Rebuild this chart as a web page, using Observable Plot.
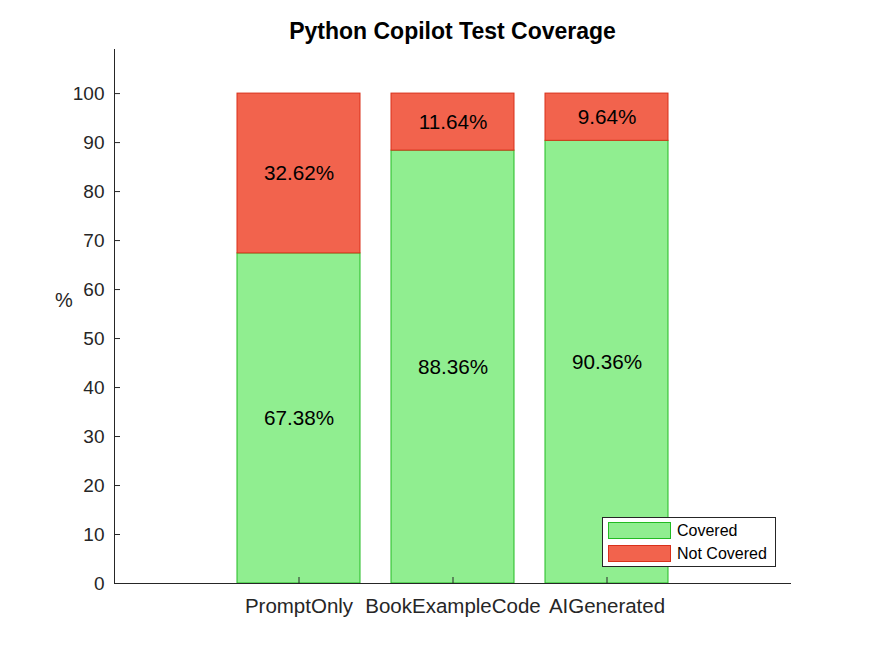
<!DOCTYPE html>
<html>
<head>
<meta charset="utf-8">
<script src="https://cdn.jsdelivr.net/npm/d3@7"></script>
<script src="https://cdn.jsdelivr.net/npm/@observablehq/plot@0.6"></script>
<style>
  body { margin: 0; background: white; }
  #wrap { position: relative; width: 875px; height: 656px; font-family: "Liberation Sans", Arial, Helvetica, sans-serif; }
  #title { position: absolute; left: 114px; width: 677px; top: 18px; text-align: center; font-weight: bold; font-size: 23px; color: #000; }
  #ylab { position: absolute; left: 55px; top: 289px; font-size: 20px; color: #262626; }
  #legend { position: absolute; left: 602px; top: 517px; width: 172px; height: 48px; border: 1px solid #262626; background: white; }
  .item { position: absolute; left: 5px; height: 17px; display: flex; align-items: center; }
  .sw { width: 61px; height: 15px; border: 1px solid; box-sizing: content-box; }
  .lt { margin-left: 6px; font-size: 16px; color: #000; }
</style>
</head>
<body>
<div id="wrap">
  <div id="title">Python Copilot Test Coverage</div>
  <div id="ylab">%</div>
  <div id="legend"></div>
</div>
<script>
const categories = ["PromptOnly", "BookExampleCode", "AIGenerated"];
const seriesNames = ["Covered", "Not Covered"];
const covered = [67.38, 88.36, 90.36];
const notCovered = [32.62, 11.64, 9.64];
const yTicks = [0, 10, 20, 30, 40, 50, 60, 70, 80, 90, 100];

const fillColors = ["#90EE90", "#F2634D"];
const strokeColors = ["#22BB22", "#D9301A"];

const rows = [];
categories.forEach((c, i) => {
  rows.push({cat: c, series: seriesNames[0], value: covered[i]});
  rows.push({cat: c, series: seriesNames[1], value: notCovered[i]});
});

const W = 875, H = 656, mL = 114, mR = 84, mT = 49, mB = 73;
const frameW = W - mL - mR, frameH = H - mT - mB;
const axisColor = "#262626";

const chart = Plot.plot({
  width: W, height: H,
  marginLeft: mL, marginRight: mR, marginTop: mT, marginBottom: mB,
  style: {fontFamily: '"Liberation Sans", Arial, Helvetica, sans-serif', fontSize: "19px", color: axisColor, background: "white"},
  x: {domain: categories, paddingInner: 0.2, paddingOuter: 0.79, label: null},
  y: {domain: [0, 109], label: null},
  color: {
    domain: [...seriesNames, ...seriesNames.map(s => s + "-edge")],
    range: [...fillColors, ...strokeColors]
  },
  marks: [
    Plot.barY(rows, {x: "cat", y: "value", fill: "series", stroke: d => d.series + "-edge", strokeWidth: 1}),
    Plot.text(rows, Plot.stackY({x: "cat", y: "value", text: d => d.value.toFixed(2) + "%", fill: "black", fontSize: 20.7})),
    Plot.axisY(yTicks, {tickSize: 0, tickPadding: 10, label: null, fontSize: 19}),
    Plot.axisX({tickSize: 0, tickPadding: 15, label: null, fontSize: 20.5}),
    Plot.tickY(yTicks, {y: d => d, insetRight: frameW - 6, stroke: axisColor}),
    Plot.tickX(categories, {x: d => d, insetTop: frameH - 6, stroke: axisColor}),
    Plot.ruleY([0], {stroke: axisColor}),
    Plot.frame({anchor: "left", stroke: axisColor})
  ]
});
document.getElementById("wrap").prepend(chart);
chart.style.position = "absolute";
chart.style.left = "0px";
chart.style.top = "0px";

const legend = document.getElementById("legend");
seriesNames.forEach((s, i) => {
  const item = document.createElement("div");
  item.className = "item";
  item.style.top = (4 + i * 23) + "px";
  const sw = document.createElement("div");
  sw.className = "sw";
  sw.style.background = fillColors[i];
  sw.style.borderColor = strokeColors[i];
  const lt = document.createElement("span");
  lt.className = "lt";
  lt.textContent = s;
  item.append(sw, lt);
  legend.append(item);
});
</script>
</body>
</html>
